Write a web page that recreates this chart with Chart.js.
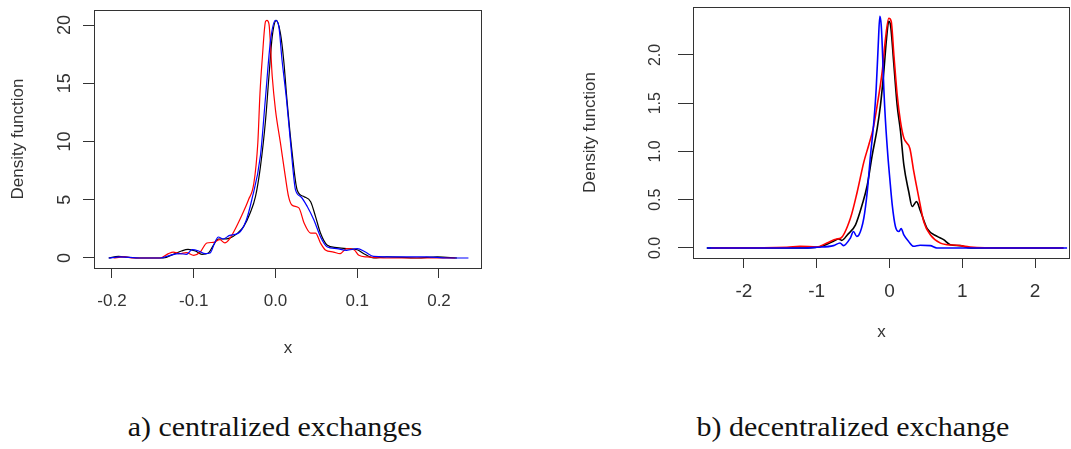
<!DOCTYPE html>
<html>
<head>
<meta charset="utf-8">
<script src="https://cdn.jsdelivr.net/npm/chart.js@4.4.1/dist/chart.umd.min.js"></script>
<style>
  html, body { margin: 0; padding: 0; background: #fff; }
  #wrap { position: relative; width: 1071px; height: 449px; overflow: hidden; }
  #cen { position: absolute; left: 0; top: 0; }
  #dec { position: absolute; left: 560px; top: 0; }
  .cap {
    position: absolute; top: 414px; white-space: nowrap;
    font-family: "Liberation Serif", "Times New Roman", serif; font-size: 27px; line-height: 27px; color: #111;
    transform: translateX(-50%) scaleX(1.11);
  }
</style>
</head>
<body>
<div id="wrap">
  <canvas id="cen" width="520" height="390"></canvas>
  <canvas id="dec" width="511" height="390"></canvas>
  <div class="cap" style="left:275px">a) centralized exchanges</div>
  <div class="cap" style="left:853px">b) decentralized exchange</div>
</div>
<script>
// a) centralized exchanges - density curves
const cenBlackX = [-0.204,-0.192,-0.18,-0.166,-0.137,-0.125,-0.115,-0.107,-0.098,-0.09,-0.082,-0.076,-0.07,-0.064,-0.056,-0.047,-0.039,-0.031,-0.0245,-0.0184,-0.0122,-0.008,-0.004,0.001,0.006,0.01,0.014,0.02,0.0265,0.035,0.043,0.049,0.055,0.063,0.075,0.087,0.1,0.108,0.12,0.136,0.173,0.198,0.222];
const cenBlackY = [0,0.14,0.06,0,0,0.31,0.6,0.74,0.6,0.31,0.43,1.09,1.63,1.63,1.71,2.09,2.69,3.86,5.26,7.84,11.8,15.6,19.0,20.4,19.3,17.0,13.6,9.27,5.84,5.26,4.83,3.55,2.14,1.12,0.89,0.8,0.71,0.37,0,0.09,0,0.09,0];
const cenRedX = [-0.198,-0.186,-0.174,-0.141,-0.131,-0.125,-0.117,-0.109,-0.1,-0.092,-0.084,-0.076,-0.068,-0.062,-0.056,-0.051,-0.041,-0.033,-0.0265,-0.0216,-0.019,-0.0163,-0.0122,-0.0105,-0.008,-0.004,0,0.006,0.012,0.016,0.02,0.0286,0.035,0.043,0.049,0.055,0.061,0.071,0.079,0.087,0.096,0.102,0.112,0.132,0.22];
const cenRedY = [0,0.09,0,0,0.37,0.51,0.37,0.46,0.23,0.51,1.29,1.34,1.57,1.29,1.66,2.26,3.7,5.0,6.4,9.9,14.1,17.0,20.3,20.4,20.1,15.6,12.7,9.9,7.0,5.26,4.55,4.3,3.0,2.14,2.14,1.29,0.69,0.51,0.37,0.8,0.71,0.23,0.09,0,0];
const cenBlueX = [-0.204,-0.19,-0.166,-0.141,-0.129,-0.117,-0.109,-0.102,-0.094,-0.086,-0.08,-0.074,-0.07,-0.064,-0.056,-0.045,-0.036,-0.029,-0.0184,-0.0122,-0.006,0,0.004,0.008,0.0135,0.0184,0.0245,0.031,0.039,0.047,0.055,0.063,0.075,0.087,0.1,0.11,0.12,0.153,0.185,0.21,0.236];
const cenBlueY = [0,0.09,0,0,0.23,0.37,0.31,0.71,0.6,0.37,0.43,1.37,1.8,1.63,1.94,2.14,3.2,5.0,8.8,13.8,18.7,20.4,19.9,17.0,13.6,9.9,5.84,5.26,4.4,3.26,1.83,0.97,0.8,0.66,0.8,0.51,0.14,0.09,0.09,0,0];
const cenXTicks = [-0.2, -0.1, 0, 0.1, 0.2];
const cenXLabels = ['-0.2', '-0.1', '0.0', '0.1', '0.2'];
const cenYTicks = [0, 5, 10, 15, 20];
const cenYLabels = ['0', '5', '10', '15', '20'];

// b) decentralized exchange - density curves
const decBlackX = [-2.51,-1.64,-1.18,-1.0,-0.908,-0.77,-0.70,-0.656,-0.58,-0.467,-0.375,-0.306,-0.238,-0.169,-0.124,-0.078,-0.041,-0.01,0.014,0.06,0.105,0.151,0.197,0.265,0.311,0.371,0.426,0.518,0.655,0.743,0.835,0.97,1.11,2.39];
const decBlackY = [0,0,0,0.007,0.024,0.069,0.093,0.079,0.135,0.24,0.45,0.65,0.96,1.24,1.48,1.83,2.17,2.35,2.31,1.9,1.48,1.21,0.86,0.58,0.43,0.48,0.38,0.2,0.12,0.086,0.034,0.024,0,0];
const decRedX = [-2.45,-1.41,-1.23,-1.0,-0.86,-0.725,-0.673,-0.536,-0.444,-0.353,-0.284,-0.224,-0.169,-0.1,-0.055,-0.01,0.023,0.06,0.105,0.151,0.197,0.28,0.334,0.403,0.472,0.563,0.70,0.79,0.927,1.11,1.57,2.39];
const decRedY = [0,0.007,0.017,0.01,0.052,0.093,0.1,0.31,0.58,0.89,1.07,1.24,1.48,1.83,2.17,2.38,2.35,2.0,1.59,1.31,1.14,1.03,0.79,0.52,0.27,0.135,0.05,0.034,0.028,0.01,0,0];
const decBlueX = [-2.51,-1.18,-1.0,-0.77,-0.68,-0.633,-0.54,-0.495,-0.45,-0.42,-0.353,-0.306,-0.261,-0.215,-0.183,-0.155,-0.133,-0.114,-0.1,-0.078,-0.055,-0.023,0.004,0.037,0.082,0.128,0.16,0.197,0.265,0.33,0.42,0.56,0.65,2.44];
const decBlueY = [0,0,0.007,0.024,0.052,0.024,0.1,0.17,0.12,0.135,0.31,0.58,0.96,1.31,1.65,2.1,2.4,2.31,2.1,1.65,1.31,0.96,0.72,0.45,0.22,0.17,0.2,0.135,0.065,0.017,0.028,0.024,0,0];
const decXTicks = [-2, -1, 0, 1, 2];
const decXLabels = ['-2', '-1', '0', '1', '2'];
const decYTicks = [0, 0.5, 1, 1.5, 2];
const decYLabels = ['0.0', '0.5', '1.0', '1.5', '2.0'];

Chart.defaults.font.family = '"Liberation Sans", Arial, sans-serif';
Chart.defaults.color = '#333';

function pts(xs, ys) {
  return xs.map((x, i) => ({ x: x, y: ys[i] }));
}

// box round the plot region, and R-style vertical y tick labels
const framePlugin = {
  id: 'frame',
  afterDraw(chart, args, opts) {
    const ctx = chart.ctx;
    const a = chart.chartArea;
    const y = chart.scales.y;
    ctx.save();
    ctx.strokeStyle = '#333';
    ctx.lineWidth = 1;
    ctx.strokeRect(Math.round(a.left) + 0.5, Math.round(a.top) + 0.5,
      Math.round(a.right - a.left) - 1, Math.round(a.bottom - a.top));
    ctx.fillStyle = '#333';
    ctx.font = opts.fontSize + 'px "Liberation Sans", Arial, sans-serif';
    ctx.textAlign = 'center';
    ctx.textBaseline = 'alphabetic';
    y.ticks.forEach((t, i) => {
      ctx.save();
      ctx.translate(opts.labelX, y.getPixelForValue(t.value));
      ctx.rotate(-Math.PI / 2);
      ctx.fillText(opts.labels[i], 0, 0);
      ctx.restore();
    });
    ctx.restore();
  }
};

function line(data, color, width, order) {
  return {
    data: data,
    showLine: true,
    borderColor: color,
    borderWidth: width,
    pointRadius: 0,
    cubicInterpolationMode: 'monotone',
    order: order
  };
}

function makeChart(id, cfg) {
  return new Chart(document.getElementById(id), {
    type: 'scatter',
    data: { datasets: cfg.datasets },
    options: {
      responsive: false,
      animation: false,
      layout: { padding: cfg.padding },
      plugins: {
        legend: { display: false },
        tooltip: { enabled: false },
        frame: { labelX: cfg.yLabelX, labels: cfg.yLabels, fontSize: cfg.yFont }
      },
      scales: {
        x: {
          type: 'linear',
          min: cfg.xMin, max: cfg.xMax,
          afterBuildTicks: s => { s.ticks = cfg.xTicks.map(v => ({ value: v })); },
          afterFit: s => { s.height = cfg.xHeight; },
          grid: { drawOnChartArea: false, drawTicks: true, tickLength: cfg.xTickLen, color: '#333' },
          border: { display: false },
          ticks: {
            autoSkip: false, maxRotation: 0, padding: cfg.xTickPad,
            font: { size: cfg.xFont },
            callback: (v, i) => cfg.xLabels[i]
          },
          title: { display: true, text: 'x', font: { size: 17 }, padding: { top: 0, bottom: cfg.xTitlePad } }
        },
        y: {
          type: 'linear',
          min: cfg.yMin, max: cfg.yMax,
          afterBuildTicks: s => { s.ticks = cfg.yTicks.map(v => ({ value: v })); },
          afterFit: s => { s.width = cfg.yWidth; },
          grid: { drawOnChartArea: false, drawTicks: true, tickLength: cfg.yTickLen, color: '#333' },
          border: { display: false },
          ticks: { display: false },
          title: { display: true, text: 'Density function', font: { size: 17 }, padding: { top: cfg.yTitlePad, bottom: 0 } }
        }
      }
    },
    plugins: [framePlugin]
  });
}

makeChart('cen', {
  datasets: [
    line(pts(cenBlackX, cenBlackY), '#000000', 1.2, 2),
    line(pts(cenRedX, cenRedY), '#ff0000', 1.2, 1),
    line(pts(cenBlueX, cenBlueY), '#0000ff', 1.2, 0)
  ],
  padding: { left: 0, right: 38, top: 10, bottom: 0 },
  xMin: -0.222, xMax: 0.2526, yMin: -0.86, yMax: 21.29,
  xTicks: cenXTicks, xLabels: cenXLabels,
  yTicks: cenYTicks, yLabels: cenYLabels,
  xHeight: 122, yWidth: 94, xTickLen: 10, yTickLen: 11,
  xFont: 17, xTickPad: 13,
  xTitlePad: 31, yTitlePad: 8,
  yLabelX: 70, yFont: 18
});

makeChart('dec', {
  datasets: [
    line(pts(decBlackX, decBlackY), '#000000', 1.6, 2),
    line(pts(decRedX, decRedY), '#ff0000', 1.6, 1),
    line(pts(decBlueX, decBlueY), '#0000ff', 1.6, 0)
  ],
  padding: { left: 0, right: 1, top: 7, bottom: 0 },
  xMin: -2.70, xMax: 2.48, yMin: -0.104, yMax: 2.497,
  xTicks: decXTicks, xLabels: decXLabels,
  yTicks: decYTicks, yLabels: decYLabels,
  xHeight: 132, yWidth: 133, xTickLen: 10, yTickLen: 15,
  xFont: 19, xTickPad: 12,
  xTitlePad: 47, yTitlePad: 20,
  yLabelX: 100, yFont: 16
});
</script>
</body>
</html>
